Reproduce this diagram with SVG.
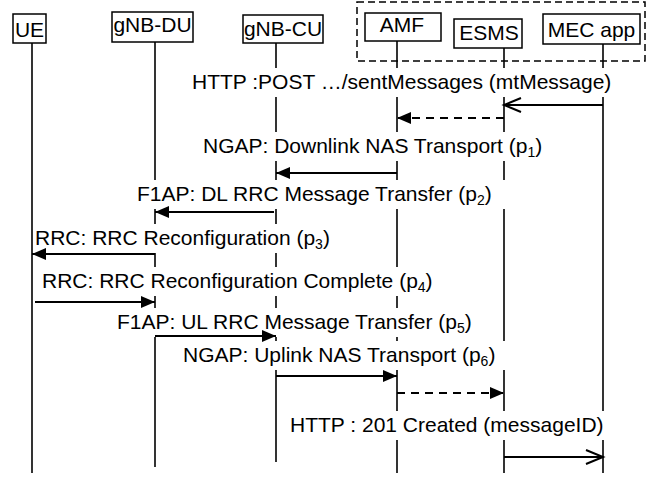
<svg xmlns="http://www.w3.org/2000/svg" width="648" height="478" viewBox="0 0 648 478">
  <style>
    text { font-family: "Liberation Sans", Arial, sans-serif; font-size: 21px; fill: #000; }
    .box { fill: #fff; stroke: #000; stroke-width: 1.5; }
    .group { fill: none; stroke: #000; stroke-width: 1.5; stroke-dasharray: 7 4; }
    .life { stroke: #000; stroke-width: 1.6; }
    .bg { fill: #fff; }
    .msg { stroke: #000; stroke-width: 2; fill: none; }
    .dash { stroke-dasharray: 8 6; }
    .sub { font-size: 14px; }
  </style>
  <defs>
    <marker id="solidHead" markerUnits="userSpaceOnUse" markerWidth="15" markerHeight="13" refX="14" refY="6" orient="auto" overflow="visible">
      <path d="M0,0 L14,6 L0,12 z" fill="#000"/>
    </marker>
    <marker id="openHead" markerUnits="userSpaceOnUse" markerWidth="18" markerHeight="16" refX="17" refY="7" orient="auto" overflow="visible">
      <path d="M0,0 L17,7 L0,14" fill="none" stroke="#000" stroke-width="2"/>
    </marker>
  </defs>

  <!-- core network / application domain -->
  <rect class="group" x="357" y="2" width="288" height="59"/>

  <!-- participants with lifelines -->
  <g id="ue">
    <line class="life" x1="32" y1="43" x2="32" y2="473"/>
    <rect class="box" x="13" y="14" width="33" height="29"/>
    <text x="29.5" y="36.5" text-anchor="middle">UE</text>
  </g>
  <g id="gnb-du">
    <line class="life" x1="155" y1="42" x2="155" y2="467"/>
    <rect class="box" x="112" y="12" width="81" height="30"/>
    <text x="152.5" y="32" text-anchor="middle">gNB-DU</text>
  </g>
  <g id="gnb-cu">
    <line class="life" x1="276" y1="43" x2="276" y2="462"/>
    <rect class="box" x="243" y="15" width="80" height="28"/>
    <text x="283" y="36" text-anchor="middle">gNB-CU</text>
  </g>
  <g id="amf">
    <line class="life" x1="397" y1="41" x2="397" y2="473"/>
    <rect class="box" x="365" y="13" width="76" height="28"/>
    <text x="402" y="32" text-anchor="middle">AMF</text>
  </g>
  <g id="esms">
    <line class="life" x1="504" y1="48" x2="504" y2="473"/>
    <rect class="box" x="454" y="19" width="68" height="29"/>
    <text x="489" y="40" text-anchor="middle">ESMS</text>
  </g>
  <g id="mec-app">
    <line class="life" x1="603" y1="44" x2="603" y2="473"/>
    <rect class="box" x="543" y="14" width="97" height="30"/>
    <text x="591.5" y="37" text-anchor="middle">MEC app</text>
  </g>

  <!-- messages -->
  <g id="connectors">
    <!-- label backgrounds interrupt the lifelines -->
    <rect class="bg" x="190" y="68" width="428" height="29"/>
    <rect class="bg" x="201" y="132" width="348" height="29"/>
    <rect class="bg" x="135" y="180" width="372" height="29"/>
    <rect class="bg" x="34" y="224" width="300" height="29"/>
    <rect class="bg" x="40" y="267" width="400" height="29"/>
    <rect class="bg" x="115" y="308" width="352" height="29"/>
    <rect class="bg" x="181" y="341" width="326" height="29"/>
    <rect class="bg" x="288" y="411" width="324" height="29"/>

    <text x="192" y="89">HTTP :POST …/sentMessages (mtMessage)</text>
    <line class="msg" x1="603" y1="105" x2="504" y2="105" marker-end="url(#openHead)"/>
    <line class="msg dash" x1="504" y1="118" x2="397" y2="118" marker-end="url(#solidHead)"/>

    <text x="203" y="153">NGAP: Downlink NAS Transport (p<tspan class="sub" dy="4">1</tspan><tspan dy="-4">)</tspan></text>
    <line class="msg" x1="397" y1="173" x2="276" y2="173" marker-end="url(#solidHead)"/>

    <text x="137" y="201">F1AP: DL RRC Message Transfer (p<tspan class="sub" dy="4">2</tspan><tspan dy="-4">)</tspan></text>
    <line class="msg" x1="274" y1="212" x2="155" y2="212" marker-end="url(#solidHead)"/>

    <text x="35" y="245">RRC: RRC Reconfiguration (p<tspan class="sub" dy="4">3</tspan><tspan dy="-4">)</tspan></text>
    <line class="msg" x1="155" y1="254" x2="32" y2="254" marker-end="url(#solidHead)"/>

    <text x="42" y="288">RRC: RRC Reconfiguration Complete (p<tspan class="sub" dy="4">4</tspan><tspan dy="-4">)</tspan></text>
    <line class="msg" x1="35" y1="302" x2="155" y2="302" marker-end="url(#solidHead)"/>

    <text x="117" y="329">F1AP: UL RRC Message Transfer (p<tspan class="sub" dy="4">5</tspan><tspan dy="-4">)</tspan></text>
    <line class="msg" x1="155" y1="336" x2="276" y2="336" marker-end="url(#solidHead)"/>

    <text x="183" y="362">NGAP: Uplink NAS Transport (p<tspan class="sub" dy="4">6</tspan><tspan dy="-4">)</tspan></text>
    <line class="msg" x1="276" y1="376" x2="397" y2="376" marker-end="url(#solidHead)"/>
    <line class="msg dash" x1="397" y1="393" x2="504" y2="393" marker-end="url(#solidHead)"/>

    <text x="290" y="432">HTTP : 201 Created (messageID)</text>
    <line class="msg" x1="504" y1="457" x2="603" y2="457" marker-end="url(#openHead)"/>
  </g>
</svg>
